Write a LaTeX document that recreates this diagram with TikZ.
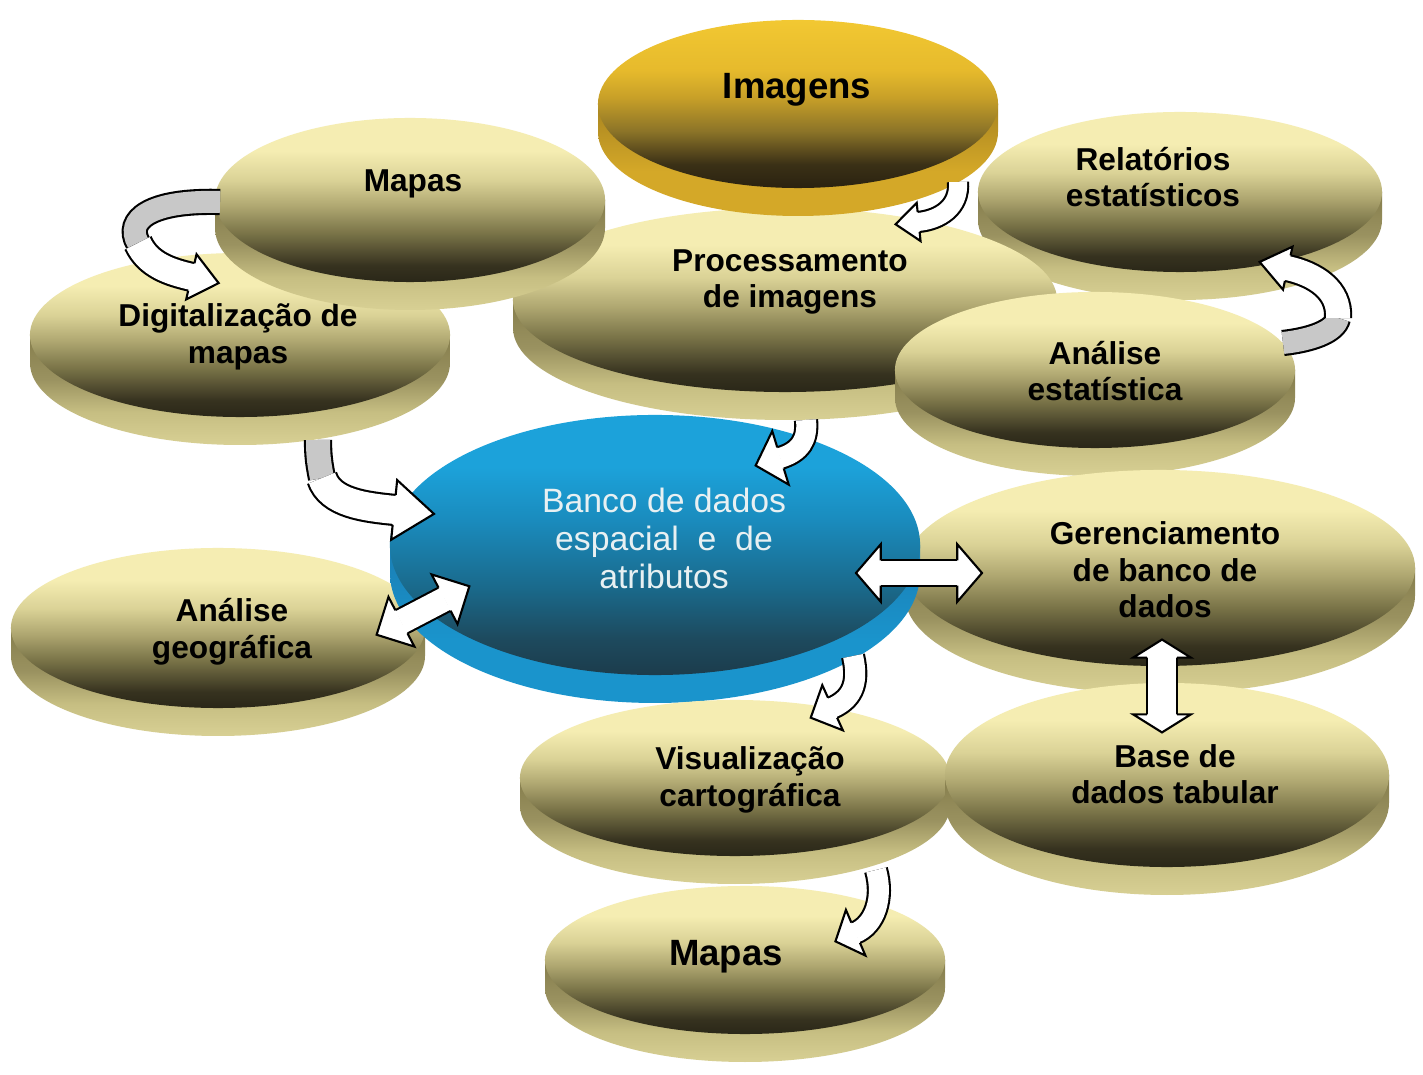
\documentclass[tikz,border=0pt]{standalone}
\usepackage{fontspec}
\setmainfont{Liberation Sans}
\usepackage{tikz}
\usetikzlibrary{calc, shapes.geometric, positioning, decorations.markings}
\definecolor{yD}{HTML}{2A2718}
\definecolor{yD2}{HTML}{36321F}
\definecolor{yM1}{HTML}{7A7448}
\definecolor{yM2}{HTML}{AEA670}
\definecolor{yL1}{HTML}{DAD296}
\definecolor{yT}{HTML}{F5EDB2}
\definecolor{yR1}{HTML}{D8D094}
\definecolor{yR2}{HTML}{C6BE82}
\definecolor{yR3}{HTML}{9A9260}
\definecolor{yR4}{HTML}{857D4C}
\definecolor{gD}{HTML}{2A2210}
\definecolor{gD2}{HTML}{3A3016}
\definecolor{gM1}{HTML}{8C7428}
\definecolor{gM2}{HTML}{C8A028}
\definecolor{gL1}{HTML}{E6BA2C}
\definecolor{gT}{HTML}{F2C832}
\definecolor{gR1}{HTML}{D4A828}
\definecolor{gR2}{HTML}{A88420}
\definecolor{bD}{HTML}{1C3C4C}
\definecolor{bD2}{HTML}{1D4A5E}
\definecolor{bM1}{HTML}{1A6A8C}
\definecolor{bM2}{HTML}{1A8CBE}
\definecolor{bT}{HTML}{1CA2DA}
\definecolor{bR1}{HTML}{1A94CC}
\definecolor{bR2}{HTML}{1A7EB4}
\definecolor{bancotxt}{HTML}{E8F0F2}
\definecolor{twistgray}{HTML}{C8C8C8}
\pgfdeclareverticalshading{yface}{100bp}{color(0bp)=(yD); color(25bp)=(yD); color(30bp)=(yD2); color(40bp)=(yM1); color(48bp)=(yM2); color(56bp)=(yL1); color(65bp)=(yT); color(100bp)=(yT)}
\pgfdeclareverticalshading{yrim}{100bp}{color(0bp)=(yR1); color(25bp)=(yR1); color(40bp)=(yR2); color(55bp)=(yR3); color(75bp)=(yR4); color(100bp)=(yR4)}
\pgfdeclareverticalshading{gface}{100bp}{color(0bp)=(gD); color(25bp)=(gD); color(32bp)=(gD2); color(42bp)=(gM1); color(52bp)=(gM2); color(60bp)=(gL1); color(75bp)=(gT); color(100bp)=(gT)}
\pgfdeclareverticalshading{grim}{100bp}{color(0bp)=(gR1); color(25bp)=(gR1); color(45bp)=(gR1); color(75bp)=(gR2); color(100bp)=(gR2)}
\pgfdeclareverticalshading{bface}{100bp}{color(0bp)=(bD); color(25bp)=(bD); color(32bp)=(bD2); color(42bp)=(bM1); color(55bp)=(bM2); color(65bp)=(bT); color(100bp)=(bT)}
\pgfdeclareverticalshading{brim}{100bp}{color(0bp)=(bR1); color(25bp)=(bR1); color(45bp)=(bR1); color(75bp)=(bR2); color(100bp)=(bR2)}
\newcommand{\drawdisc}[6]{%
  \shade[shading=#6rim] (#2-#4,#3) -- (#2-#4,#3+28) arc[start angle=180, end angle=0, x radius=#4, y radius=#5] -- (#2+#4,#3) -- cycle;
  \node[face, shading=#6face, minimum width=#4*0.05cm, minimum height=#5*0.05cm] (#1) at (#2,#3) {};
}
\tikzset{
  face/.style={ellipse, inner sep=0pt, shade},
  lbl/.style={font=\bfseries\fontsize{22.5}{26}\selectfont, align=center, inner sep=0pt},
  lblbig/.style={lbl, font=\bfseries\fontsize{26}{30}\selectfont},
  lblblue/.style={font=\fontsize{24}{27}\selectfont, text=bancotxt, align=center, inner sep=0pt},
  twist/.style={draw=black, line width=1.5pt, double=twistgray, double distance=#1},
  blk/.style n args={3}{
    postaction={draw=black, line width=1.5pt, double=white, double distance=#1},
    postaction={decorate, decoration={markings, mark=at position 0.99 with {
      \draw[black, fill=white, line width=1.5pt, line join=miter]
        (0pt,#1/2+0.75pt) -- (0pt,#2) -- (#3,0pt) -- (0pt,-#2) -- (0pt,-#1/2-0.75pt);}}}},
  blkb/.style n args={3}{
    postaction={draw=black, line width=1.5pt, double=white, double distance=#1},
    postaction={decorate, decoration={markings, mark=at position 0.01 with {
      \draw[black, fill=white, line width=1.5pt, line join=miter]
        (0pt,#1/2+0.75pt) -- (0pt,#2) -- (-#3,0pt) -- (0pt,-#2) -- (0pt,-#1/2-0.75pt);},
      mark=at position 0.99 with {
      \draw[black, fill=white, line width=1.5pt, line join=miter]
        (0pt,#1/2+0.75pt) -- (0pt,#2) -- (#3,0pt) -- (0pt,-#2) -- (0pt,-#1/2-0.75pt);}}}},
}

\begin{document}
\begin{tikzpicture}[x=0.025cm, y=-0.025cm]
\useasboundingbox (0,0) rectangle (1423,1075);
\fill[white] (0,0) rectangle (1423,1075);

\drawdisc{digit}{240}{335}{210}{82}{y}
\node[lbl] (digit-t) at ([shift={(-2,2)}]digit.center) {Digitalização de\\mapas};
\drawdisc{relat}{1180}{192}{202}{80}{y}
\node[lbl] (relat-t) at ([shift={(-27,-15)}]relat.center) {Relatórios\\estatísticos};
\drawdisc{proc}{785}{300}{272}{92}{y}
\node[lbl] (proc-t) at ([shift={(5,-18)}]proc.center) {Processamento\\de imagens};
\drawdisc{mapasA}{410}{200}{195}{82}{y}
\node[lbl] (mapasA-t) at ([shift={(3,-16)}]mapasA.center) {Mapas};
\drawdisc{imagens}{798}{104}{200}{84}{g}
\node[lblbig] (imagens-t) at ([shift={(-1,-14)}]imagens.center) {Imagens};
\drawdisc{anest}{1095}{370}{200}{78}{y}
\node[lbl] (anest-t) at ([shift={(10,1)}]anest.center) {Análise\\estatística};
\drawdisc{angeo}{218}{628}{207}{80}{y}
\node[lbl] (angeo-t) at ([shift={(14,4)}]angeo.center) {Análise\\geográfica};
\drawdisc{geren}{1160}{568}{255}{98}{y}
\node[lbl] (geren-t) at ([shift={(5,2)}]geren.center) {Gerenciamento\\de banco de\\dados};
\drawdisc{banco}{655}{545}{265}{130}{b}
\node[lblblue] (banco-t) at ([shift={(9,-7)}]banco.center) {Banco de dados\\espacial~ e~ de\\atributos};
\drawdisc{visu}{735}{778}{215}{78}{y}
\node[lbl] (visu-t) at ([shift={(15,2)}]visu.center) {Visualização\\cartográfica};
\drawdisc{base}{1167}{775}{222}{92}{y}
\node[lbl] (base-t) at ([shift={(8,-1)}]base.center) {Base de\\dados tabular};
\drawdisc{mapasB}{745}{960}{200}{74}{y}
\node[lblbig] (mapasB-t) at ([shift={(-19,-3)}]mapasB.center) {Mapas};

\coordinate (m1a) at ([shift={(-190,2)}]mapasA.center);
\coordinate (m1b) at ([shift={(-102,-92)}]digit.center);
\coordinate (m1c) at ([shift={(-48,-58)}]digit.center);
\draw[twist=0.55cm] (m1a) .. controls +(-70,-2) and +(-13,-23) .. (m1b);
\path[blk={0.65cm}{0.58cm}{0.7cm}] (m1b) .. controls +(10,22) and +(-22,-5) .. (m1c);

\coordinate (i1a) at ([shift={(160,78)}]imagens.center);
\coordinate (i1b) at ([shift={(133,-78)}]proc.center);
\path[blk={0.45cm}{0.48cm}{0.58cm}] (i1a) .. controls +(2,25) and +(22,-2) .. (i1b);

\coordinate (s1a) at ([shift={(188,-27)}]anest.center);
\coordinate (s1b) at ([shift={(158,126)}]relat.center);
\coordinate (s1c) at ([shift={(107,76)}]relat.center);
\draw[twist=0.55cm] (s1a) .. controls +(27,-3) and +(-3,14) .. (s1b);
\path[blk={0.6cm}{0.55cm}{0.72cm}] (s1b) .. controls +(2,-28) and +(28,6) .. (s1c);

\coordinate (p1a) at ([shift={(21,120)}]proc.center);
\coordinate (p1b) at ([shift={(125,-87)}]banco.center);
\path[blk={0.5cm}{0.7cm}{0.65cm}] (p1a) .. controls +(2,20) and +(20,-6) .. (p1b);

\coordinate (d1a) at ([shift={(78,105)}]digit.center);
\coordinate (d1b) at ([shift={(-333,-67)}]banco.center);
\coordinate (d1c) at ([shift={(-260,-35)}]banco.center);
\draw[twist=0.6cm] (d1a) .. controls +(0,15) and +(-3,-15) .. (d1b);
\path[blk={0.7cm}{0.75cm}{1cm}] (d1b) .. controls +(8,25) and +(-30,-3) .. (d1c);

\coordinate (g1a) at ([shift={(183,-6)}]angeo.center);
\coordinate (g1b) at ([shift={(-210,54)}]banco.center);
\path[blkb={0.6cm}{0.7cm}{0.7cm}] (g1a) -- (g1b);

\coordinate (b1a) at ([shift={(225,28)}]banco.center);
\coordinate (b1b) at ([shift={(-202,5)}]geren.center);
\path[blkb={0.58cm}{0.72cm}{0.62cm}] (b1a) -- (b1b);

\coordinate (r1a) at ([shift={(2,89)}]geren.center);
\coordinate (r1b) at ([shift={(-5,-60)}]base.center);
\path[blkb={0.7cm}{0.72cm}{0.45cm}] (r1a) -- (r1b);

\coordinate (v1a) at ([shift={(198,111)}]banco.center);
\coordinate (v1b) at ([shift={(97,-70)}]visu.center);
\path[blk={0.5cm}{0.62cm}{0.6cm}] (v1a) .. controls +(7,30) and +(18,-8) .. (v1b);

\coordinate (w1a) at ([shift={(141,92)}]visu.center);
\coordinate (w1b) at ([shift={(110,-27)}]mapasB.center);
\path[blk={0.5cm}{0.62cm}{0.55cm}] (w1a) .. controls +(8,28) and +(20,-8) .. (w1b);
\end{tikzpicture}
\end{document}
